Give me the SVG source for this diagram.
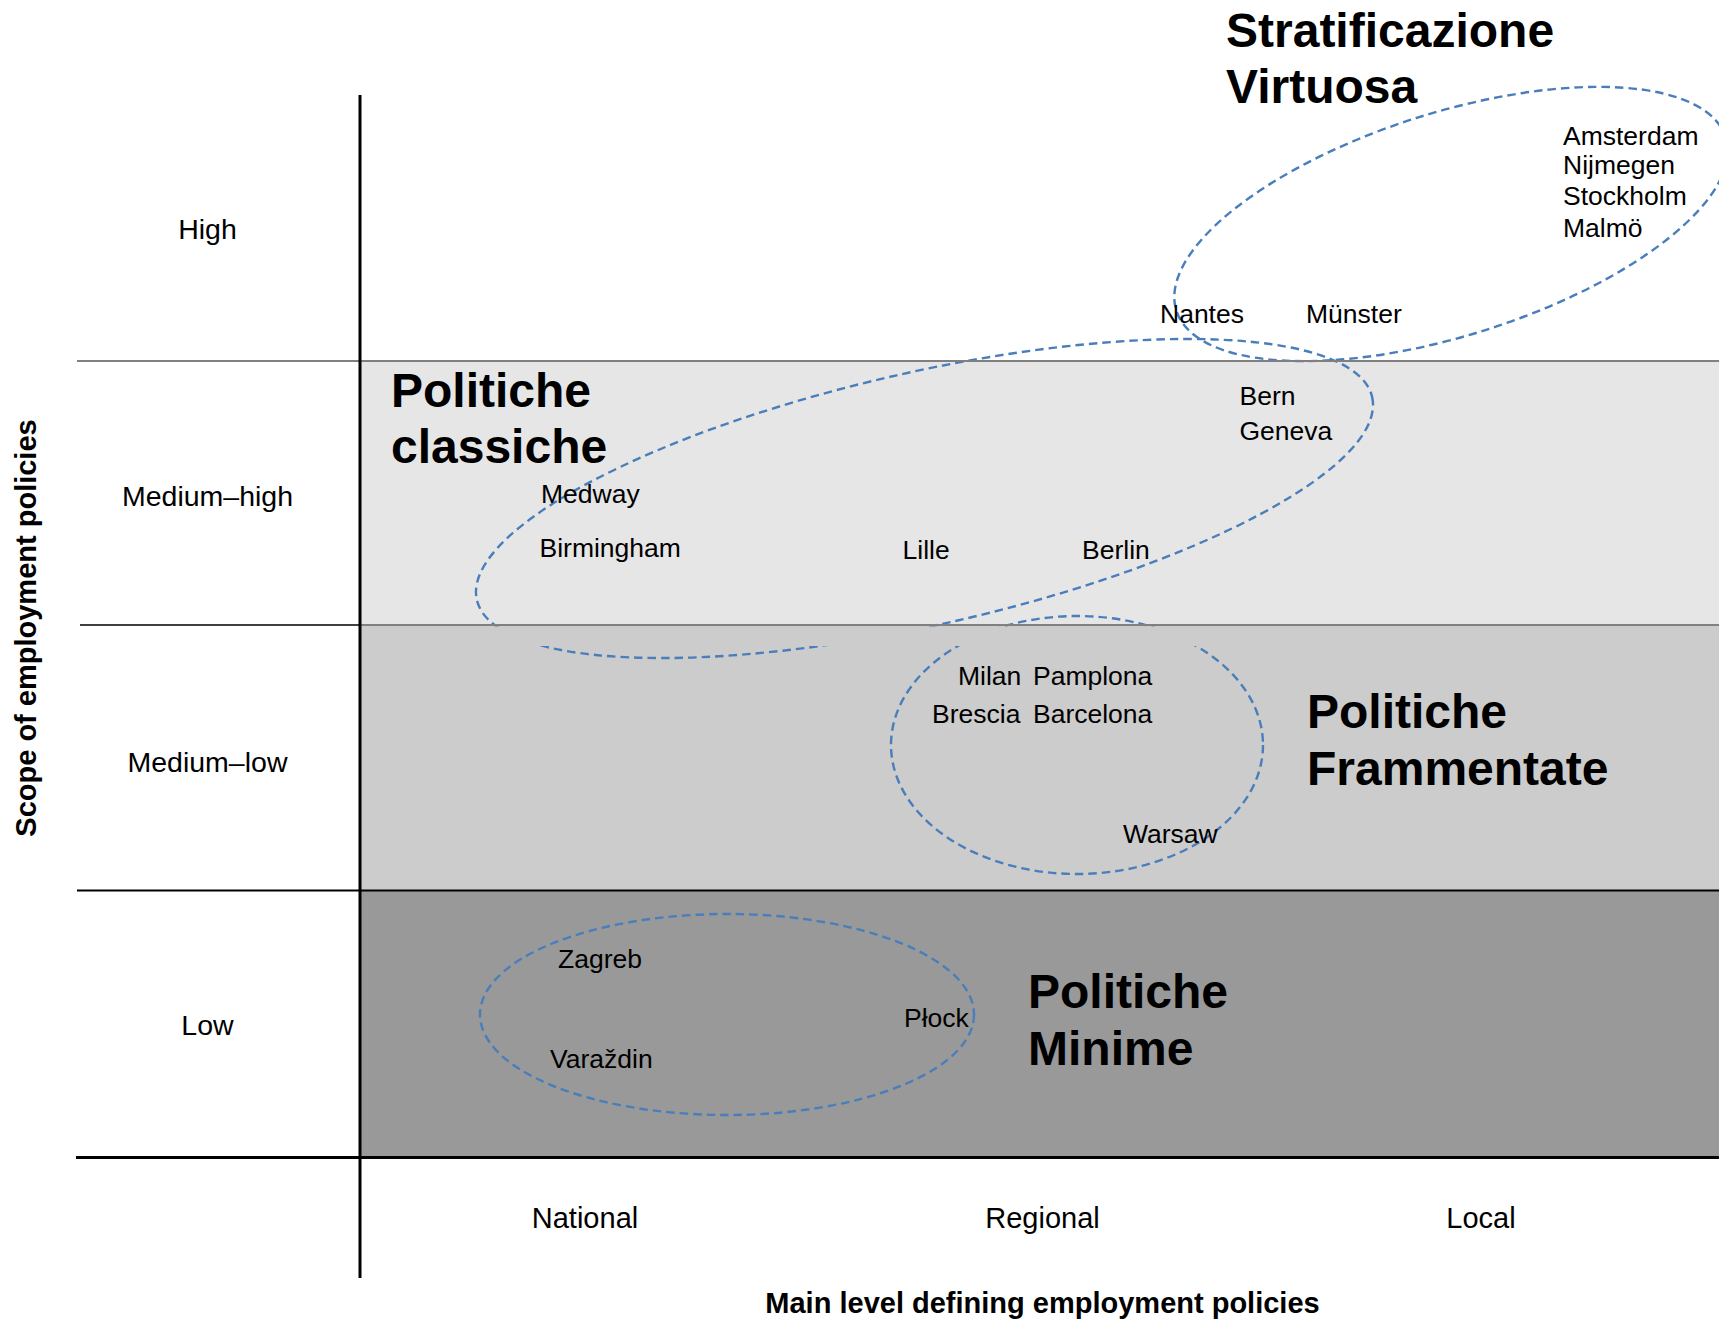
<svg xmlns="http://www.w3.org/2000/svg" width="1719" height="1320" viewBox="0 0 1719 1320">
<style>
.city{font-family:"Liberation Sans",Arial,sans-serif;font-size:26.5px;fill:#000}
.title{font-family:"Liberation Sans",Arial,sans-serif;font-size:48px;font-weight:bold;fill:#000}
.lvl{font-family:"Liberation Sans",Arial,sans-serif;font-size:28.5px;fill:#000;text-anchor:middle}
.axl{font-family:"Liberation Sans",Arial,sans-serif;font-size:29px;fill:#000;text-anchor:middle}
.axt{font-family:"Liberation Sans",Arial,sans-serif;font-size:29px;font-weight:bold;fill:#000;text-anchor:middle}
.clu{fill:none;stroke:#4a7ebb;stroke-width:2.4;stroke-dasharray:8.5 5}
</style>
<rect x="0" y="0" width="1719" height="1320" fill="#fff"/>
<g id="bands">
<rect x="361" y="361" width="1358" height="264" fill="#e6e6e6"/>
<rect x="361" y="625" width="1358" height="265.5" fill="#cccccc"/>
<rect x="361" y="890.5" width="1358" height="267" fill="#999999"/>
</g>
<g id="connectors">
<ellipse class="clu" cx="0" cy="0" rx="288" ry="111.5" transform="translate(1451,224) rotate(-17.5)"/>
<ellipse class="clu" cx="0" cy="0" rx="459" ry="126.3" transform="translate(924.5,498.5) rotate(-12.76)"/>
<ellipse class="clu" cx="1077" cy="745" rx="186" ry="129"/>
<ellipse class="clu" cx="727" cy="1014.5" rx="247" ry="100.5"/>
</g>
<rect x="470" y="626.5" width="750" height="19.5" fill="#cccccc"/>
<g id="grid">
<line x1="77" y1="361" x2="1719" y2="361" stroke="#808080" stroke-width="2"/>
<line x1="80" y1="625" x2="360" y2="625" stroke="#000" stroke-width="1.5"/>
<line x1="360" y1="625" x2="1719" y2="625" stroke="#808080" stroke-width="2"/>
<line x1="77" y1="890.5" x2="1719" y2="890.5" stroke="#000" stroke-width="2"/>
<line x1="76" y1="1157.5" x2="1719" y2="1157.5" stroke="#000" stroke-width="3"/>
<line x1="360" y1="95" x2="360" y2="1278" stroke="#000" stroke-width="3"/>
</g>
<g id="node-virtuosa">
<text class="title" x="1226" y="47">Stratificazione</text>
<text class="title" x="1226" y="103">Virtuosa</text>
<text class="city" x="1563" y="145">Amsterdam</text>
<text class="city" x="1563" y="174">Nijmegen</text>
<text class="city" x="1563" y="205">Stockholm</text>
<text class="city" x="1563" y="237">Malmö</text>
<text class="city" x="1160" y="323">Nantes</text>
<text class="city" x="1306" y="323">Münster</text>
</g>
<g id="node-classiche">
<text class="title" x="391" y="407">Politiche</text>
<text class="title" x="391" y="463">classiche</text>
<text class="city" x="1239.5" y="405">Bern</text>
<text class="city" x="1239.5" y="440">Geneva</text>
<text class="city" x="541" y="503">Medway</text>
<text class="city" x="539.5" y="557">Birmingham</text>
<text class="city" x="902.6" y="559">Lille</text>
<text class="city" x="1082" y="559">Berlin</text>
</g>
<g id="node-frammentate">
<text class="title" x="1307" y="728">Politiche</text>
<text class="title" x="1307" y="785">Frammentate</text>
<text class="city" x="958" y="685">Milan</text>
<text class="city" x="1033" y="685">Pamplona</text>
<text class="city" x="932" y="723">Brescia</text>
<text class="city" x="1033" y="723">Barcelona</text>
<text class="city" x="1123" y="843">Warsaw</text>
</g>
<g id="node-minime">
<text class="title" x="1028" y="1008">Politiche</text>
<text class="title" x="1028" y="1065">Minime</text>
<text class="city" x="558" y="968">Zagreb</text>
<text class="city" x="904" y="1027">Płock</text>
<text class="city" x="550" y="1068">Varaždin</text>
</g>
<g id="axis-y">
<text class="lvl" x="207.5" y="239">High</text>
<text class="lvl" x="207.5" y="506">Medium–high</text>
<text class="lvl" x="207.5" y="772">Medium–low</text>
<text class="lvl" x="207.5" y="1035">Low</text>
<text class="axt" transform="translate(36,628) rotate(-90)">Scope of employment policies</text>
</g>
<g id="axis-x">
<text class="axl" x="585" y="1228">National</text>
<text class="axl" x="1042.5" y="1228">Regional</text>
<text class="axl" x="1481" y="1228">Local</text>
<text class="axt" x="1042.5" y="1313">Main level defining employment policies</text>
</g>
</svg>
